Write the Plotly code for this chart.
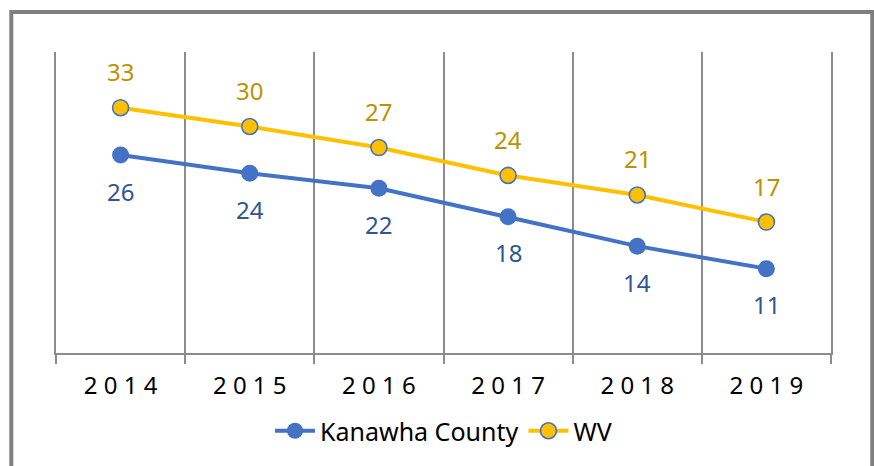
import plotly.graph_objects as go

years = ["2014", "2015", "2016", "2017", "2018", "2019"]
kanawha = [26.3, 23.9, 21.9, 18.1, 14.2, 11.2]
wv = [32.6, 30.1, 27.3, 23.6, 21.0, 17.4]

tick_text = [" ".join(y) for y in years]

BLUE = "#4472C4"
GOLD = "#FFC000"
GRID = "#8C8C8C"
FONT = "Noto Sans"

fig = go.Figure()
fig.add_trace(go.Scatter(
    x=years, y=kanawha, name="Kanawha County", mode="lines+markers",
    line=dict(color=BLUE, width=4),
    marker=dict(color=BLUE, size=17, line=dict(color=BLUE, width=0)),
))
fig.add_trace(go.Scatter(
    x=years, y=wv, name="WV", mode="lines+markers",
    line=dict(color=GOLD, width=4),
    marker=dict(color=GOLD, size=16, line=dict(color=BLUE, width=1.6)),
))

annotations = []
for i, v in enumerate(wv):
    annotations.append(dict(x=i, y=v, xref="x", yref="y", text=str(round(v)), showarrow=False,
                            yshift=36, font=dict(family=FONT, size=24, color="#BF9000")))
for i, v in enumerate(kanawha):
    annotations.append(dict(x=i, y=v, xref="x", yref="y", text=str(round(v)), showarrow=False,
                            yshift=-36, font=dict(family=FONT, size=24, color="#2F5597")))

# outer frame
W, H = 874, 466
L, R, T, B = 56, 43, 52, 113
pw, ph = W - L - R, H - T - B
def px(x):
    return (x - L) / pw
def py(y):
    return (H - B - y) / ph

shapes = [dict(type="rect", xref="paper", yref="paper",
               x0=px(11.3), x1=px(872.3), y0=py(12), y1=py(520),
               line=dict(color="#7F7F7F", width=4), fillcolor="rgba(0,0,0,0)",
               layer="above")]

fig.update_layout(
    width=W, height=H,
    margin=dict(l=L, r=R, t=T, b=B),
    paper_bgcolor="white", plot_bgcolor="white",
    font=dict(family=FONT, size=24, color="black"),
    showlegend=True,
    legend=dict(orientation="h", x=0.5, xanchor="center", y=py(431), yanchor="middle",
                font=dict(family=FONT, size=25, color="black"),
                itemwidth=40, tracegroupgap=0),
    annotations=annotations,
    shapes=shapes,
    xaxis=dict(
        type="category", tickmode="array", tickvals=years, ticktext=tick_text,
        tickson="boundaries", ticks="outside", ticklen=9, tickwidth=1.5, tickcolor=GRID,
        showgrid=True, gridcolor=GRID, gridwidth=1.5,
        showline=True, linecolor=GRID, linewidth=1.5,
        ticklabelstandoff=10,
        tickfont=dict(family=FONT, size=24, color="black"),
        range=[-0.5, 5.5], zeroline=False, fixedrange=True,
    ),
    yaxis=dict(range=[0, 40], showticklabels=False, ticks="", showgrid=False, zeroline=False,
               showline=True, mirror=True, linecolor=GRID, linewidth=1.5, fixedrange=True),
)

fig.write_html("out.html", config={"displayModeBar": False},
               post_script="document.body.style.margin='0px';")
